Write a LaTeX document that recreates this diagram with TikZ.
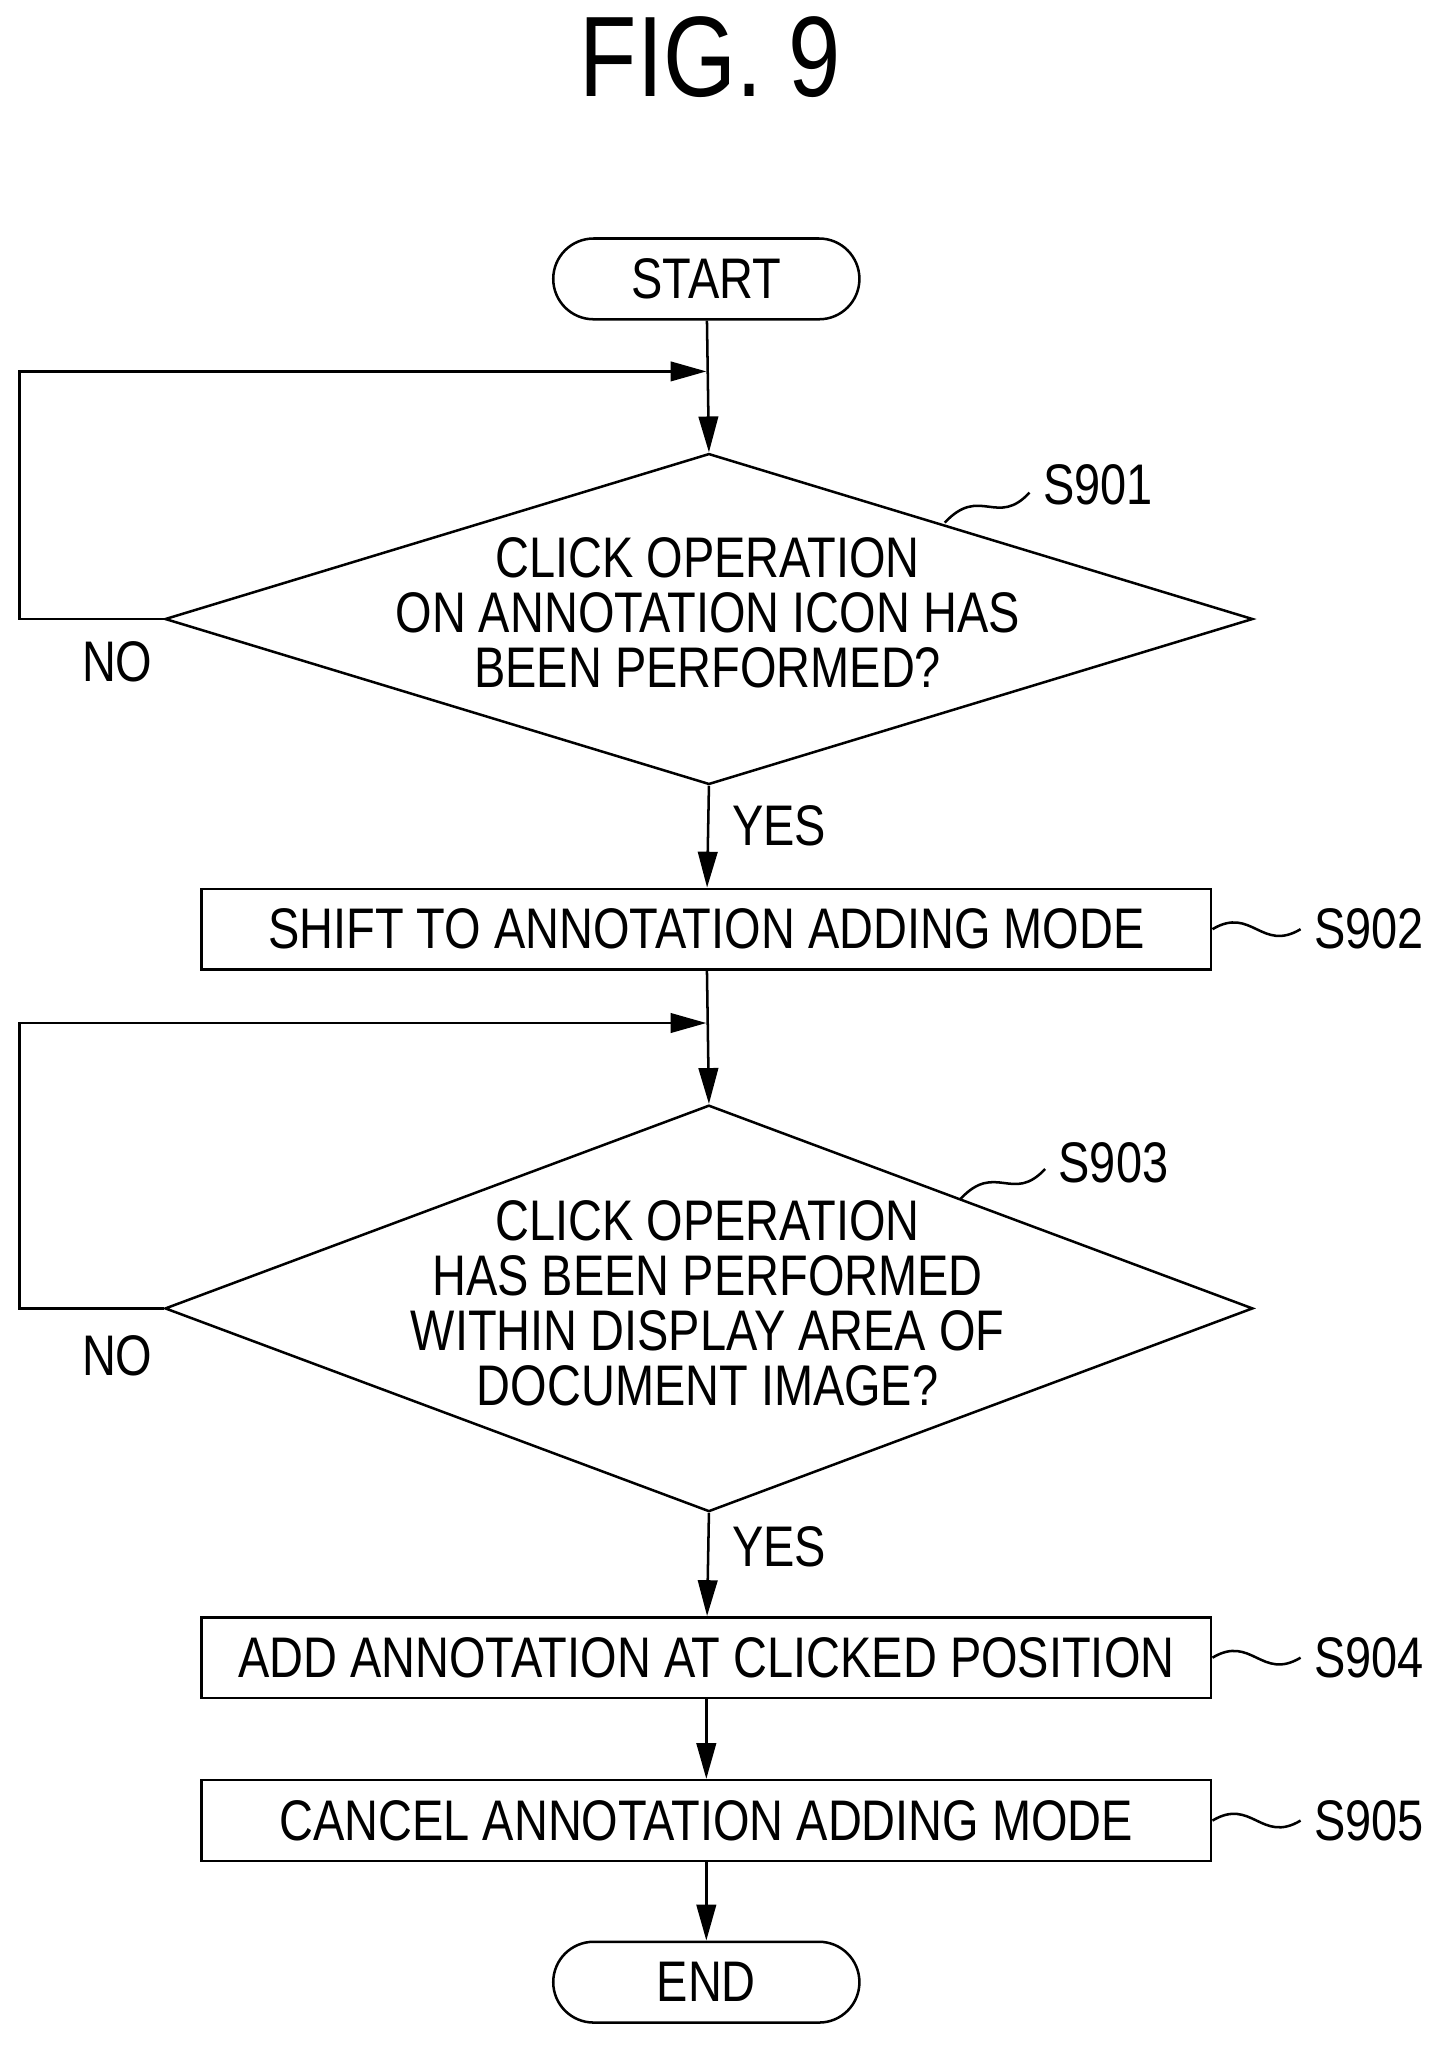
\documentclass[tikz,border=0pt]{standalone}
\usepackage{fontspec}
\setmainfont{Liberation Sans}[FakeStretch=0.82]
\usetikzlibrary{arrows.meta,shapes.geometric,positioning}
\tikzset{
  every node/.style={font=\fontsize{25}{27}\selectfont},
  flow/.style={line width=1.1pt,-{Triangle[length=0.55cm,width=0.3cm]}},
  plain/.style={line width=1.1pt},
  process/.style={draw,line width=1.1pt,minimum width=15.5cm,minimum height=1.24cm,inner sep=0pt},
  terminal/.style={draw,line width=1.1pt,rounded corners=0.62cm,minimum width=4.7cm,minimum height=1.24cm,inner sep=0pt},
  decision/.style={draw,line width=1.1pt,diamond,minimum width=16.7cm,inner sep=0pt},
  steplabel/.style={anchor=west,inner sep=0pt}
}
\begin{document}
\begin{tikzpicture}[x=0.02cm,y=-0.02cm]
  \useasboundingbox (0,0) rectangle (1110,1570);
  \node[font=\fontsize{50}{52}\selectfont] (title) at (545,44) {FIG. 9};

  \node[terminal] (start) at (542,214) {START};
  \node[decision,minimum height=5.08cm] (d1) at (544,475) {};
  \node[align=center] (t1) at (543,470) {CLICK OPERATION\\[-3pt]ON ANNOTATION ICON HAS\\[-3pt]BEEN PERFORMED?};
  \node[process] (s902) at (542,713) {SHIFT TO ANNOTATION ADDING MODE};
  \node[decision,minimum height=6.24cm] (d2) at (544,1004) {};
  \node[align=center] (t2) at (543,1000) {CLICK OPERATION\\[-3pt]HAS BEEN PERFORMED\\[-3pt]WITHIN DISPLAY AREA OF\\[-3pt]DOCUMENT IMAGE?};
  \node[process] (s904) at (542,1272) {ADD ANNOTATION AT CLICKED POSITION};
  \node[process] (s905) at (542,1397) {CANCEL ANNOTATION ADDING MODE};
  \node[terminal] (end) at (542,1521) {END};

  % step labels
  \node[steplabel] (l901) at (800,372) {S901};
  \node[steplabel] (l902) at (1008,713) {S902};
  \node[steplabel] (l903) at (812,892) {S903};
  \node[steplabel] (l904) at (1008,1272) {S904};
  \node[steplabel] (l905) at (1008,1397) {S905};
  \draw[plain] (725,401) .. controls (752,372) and (765,405) .. (790,378);
  \draw[plain] (737,920) .. controls (764,891) and (777,924) .. (802,897);
  \foreach \s in {902,904,905}
    \draw[plain] (s\s.east) .. controls +(30,-18) and +(-30,18) .. ([xshift=-0.2cm]l\s.west);

  % yes / no
  \node (no1) at (90,508) {NO};
  \node (no2) at (90,1040) {NO};
  \node (yes1) at (598,634) {YES};
  \node (yes2) at (598,1187) {YES};

  % connectors
  \coordinate (m1) at (542,285);
  \coordinate (m2) at (542,785);
  \draw[flow] (start) -- (d1.north);
  \draw[flow] (d1.west) -- (15,475) -- (15,285) -- (m1);
  \draw[flow] (d1.south) -- (s902);
  \draw[flow] (s902) -- (d2.north);
  \draw[flow] (d2.west) -- (15,1004) -- (15,785) -- (m2);
  \draw[flow] (d2.south) -- (s904);
  \draw[flow] (s904) -- (s905);
  \draw[flow] (s905) -- (end);
\end{tikzpicture}
\end{document}
